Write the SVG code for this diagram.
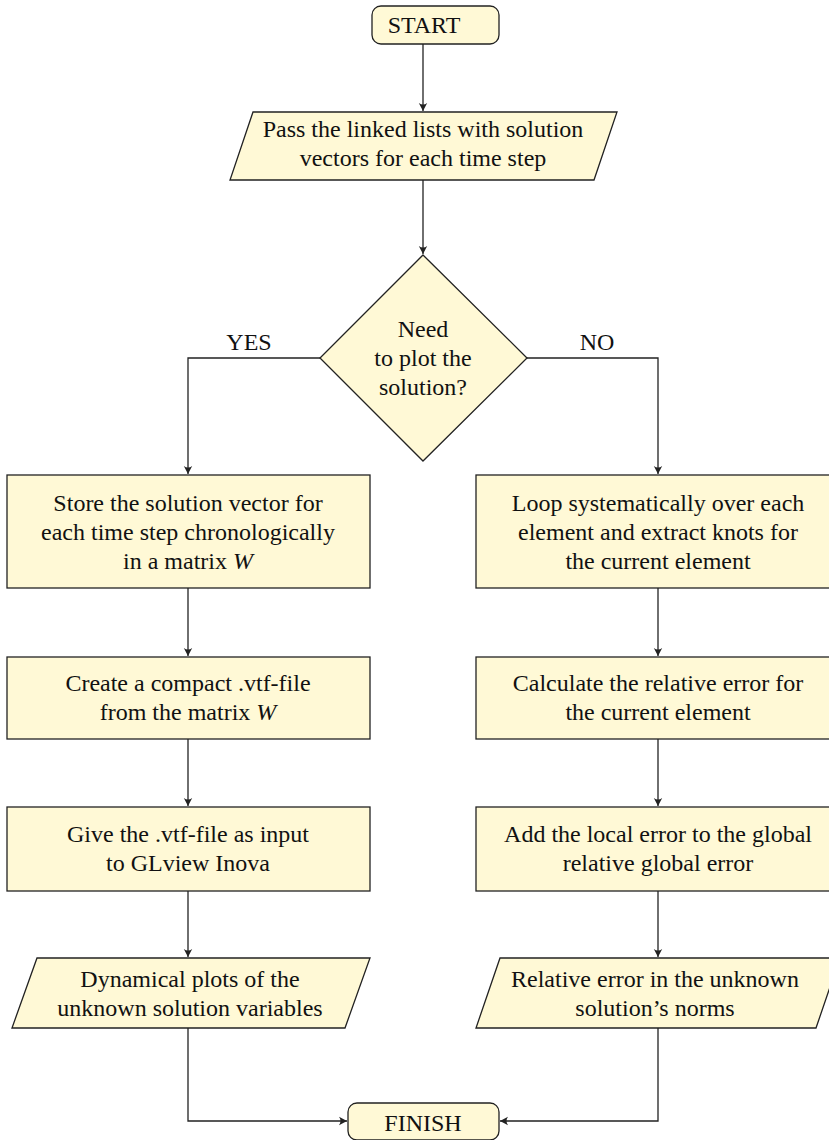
<svg xmlns="http://www.w3.org/2000/svg" width="829" height="1140" viewBox="0 0 829 1140">
<style>
.n{fill:#fff9d6;stroke:#222;stroke-width:1.3}
.t{font-family:'Liberation Serif','DejaVu Serif',serif;font-size:24px;fill:#111;text-anchor:middle}
.c{fill:none;stroke:#222;stroke-width:1.3}
.i{font-style:italic}
</style>
<defs>
<marker id="a" viewBox="-9 -5 10 10" refX="0" refY="0" markerWidth="10" markerHeight="10" markerUnits="userSpaceOnUse" orient="auto">
<path d="M0,0 L-8,-4.2 Q-5,0 -8,4.2 Z" fill="#222"/>
</marker>
</defs>
<g id="connectors">
<path class="c" d="M423,44 V111" marker-end="url(#a)"/>
<path class="c" d="M423,180 V254" marker-end="url(#a)"/>
<path class="c" d="M320,358 H188 V474" marker-end="url(#a)"/>
<path class="c" d="M527,358 H658 V474" marker-end="url(#a)"/>
<path class="c" d="M188,588 V656" marker-end="url(#a)"/>
<path class="c" d="M188,739 V806" marker-end="url(#a)"/>
<path class="c" d="M188,891 V957" marker-end="url(#a)"/>
<path class="c" d="M658,588 V656" marker-end="url(#a)"/>
<path class="c" d="M658,739 V806" marker-end="url(#a)"/>
<path class="c" d="M658,891 V957" marker-end="url(#a)"/>
<path class="c" d="M188,1028 V1121 H347" marker-end="url(#a)"/>
<path class="c" d="M658,1028 V1121 H500" marker-end="url(#a)"/>
</g>
<g id="start">
<rect class="n" x="372" y="6" width="127" height="38" rx="9"/>
<text class="t" x="424" y="33">START</text>
</g>
<g id="pass">
<polygon class="n" points="253,112 617,112 594,180 230,180"/>
<text class="t" x="423" y="137">Pass the linked lists with solution</text>
<text class="t" x="423" y="166">vectors for each time step</text>
</g>
<g id="decision">
<polygon class="n" points="423,255 527,358 423,461 320,358"/>
<text class="t" x="423" y="337">Need</text>
<text class="t" x="423" y="366">to plot the</text>
<text class="t" x="423" y="395">solution?</text>
</g>
<g id="yes-label"><text class="t" x="249" y="350">YES</text></g>
<g id="no-label"><text class="t" x="597" y="350">NO</text></g>
<g id="store">
<rect class="n" x="7" y="475" width="363" height="113"/>
<text class="t" x="188" y="511">Store the solution vector for</text>
<text class="t" x="188" y="540">each time step chronologically</text>
<text class="t" x="188" y="569">in a matrix <tspan class="i">W</tspan></text>
</g>
<g id="create">
<rect class="n" x="7" y="657" width="363" height="82"/>
<text class="t" x="188" y="691">Create a compact .vtf-file</text>
<text class="t" x="188" y="720">from the matrix <tspan class="i">W</tspan></text>
</g>
<g id="give">
<rect class="n" x="7" y="807" width="363" height="84"/>
<text class="t" x="188" y="842">Give the .vtf-file as input</text>
<text class="t" x="188" y="871">to GLview Inova</text>
</g>
<g id="plots">
<polygon class="n" points="37,958 370,958 345,1028 12,1028"/>
<text class="t" x="190" y="987">Dynamical plots of the</text>
<text class="t" x="190" y="1016">unknown solution variables</text>
</g>
<g id="loop">
<rect class="n" x="476" y="475" width="364" height="113"/>
<text class="t" x="658" y="511">Loop systematically over each</text>
<text class="t" x="658" y="540">element and extract knots for</text>
<text class="t" x="658" y="569">the current element</text>
</g>
<g id="calc">
<rect class="n" x="476" y="657" width="364" height="82"/>
<text class="t" x="658" y="691">Calculate the relative error for</text>
<text class="t" x="658" y="720">the current element</text>
</g>
<g id="add">
<rect class="n" x="476" y="807" width="364" height="84"/>
<text class="t" x="658" y="842">Add the local error to the global</text>
<text class="t" x="658" y="871">relative global error</text>
</g>
<g id="relerr">
<polygon class="n" points="500,958 840,958 816,1028 476,1028"/>
<text class="t" x="655" y="987">Relative error in the unknown</text>
<text class="t" x="655" y="1016">solution’s norms</text>
</g>
<g id="finish">
<rect class="n" x="348" y="1103" width="151" height="37" rx="9"/>
<text class="t" x="423" y="1131">FINISH</text>
</g>
</svg>
